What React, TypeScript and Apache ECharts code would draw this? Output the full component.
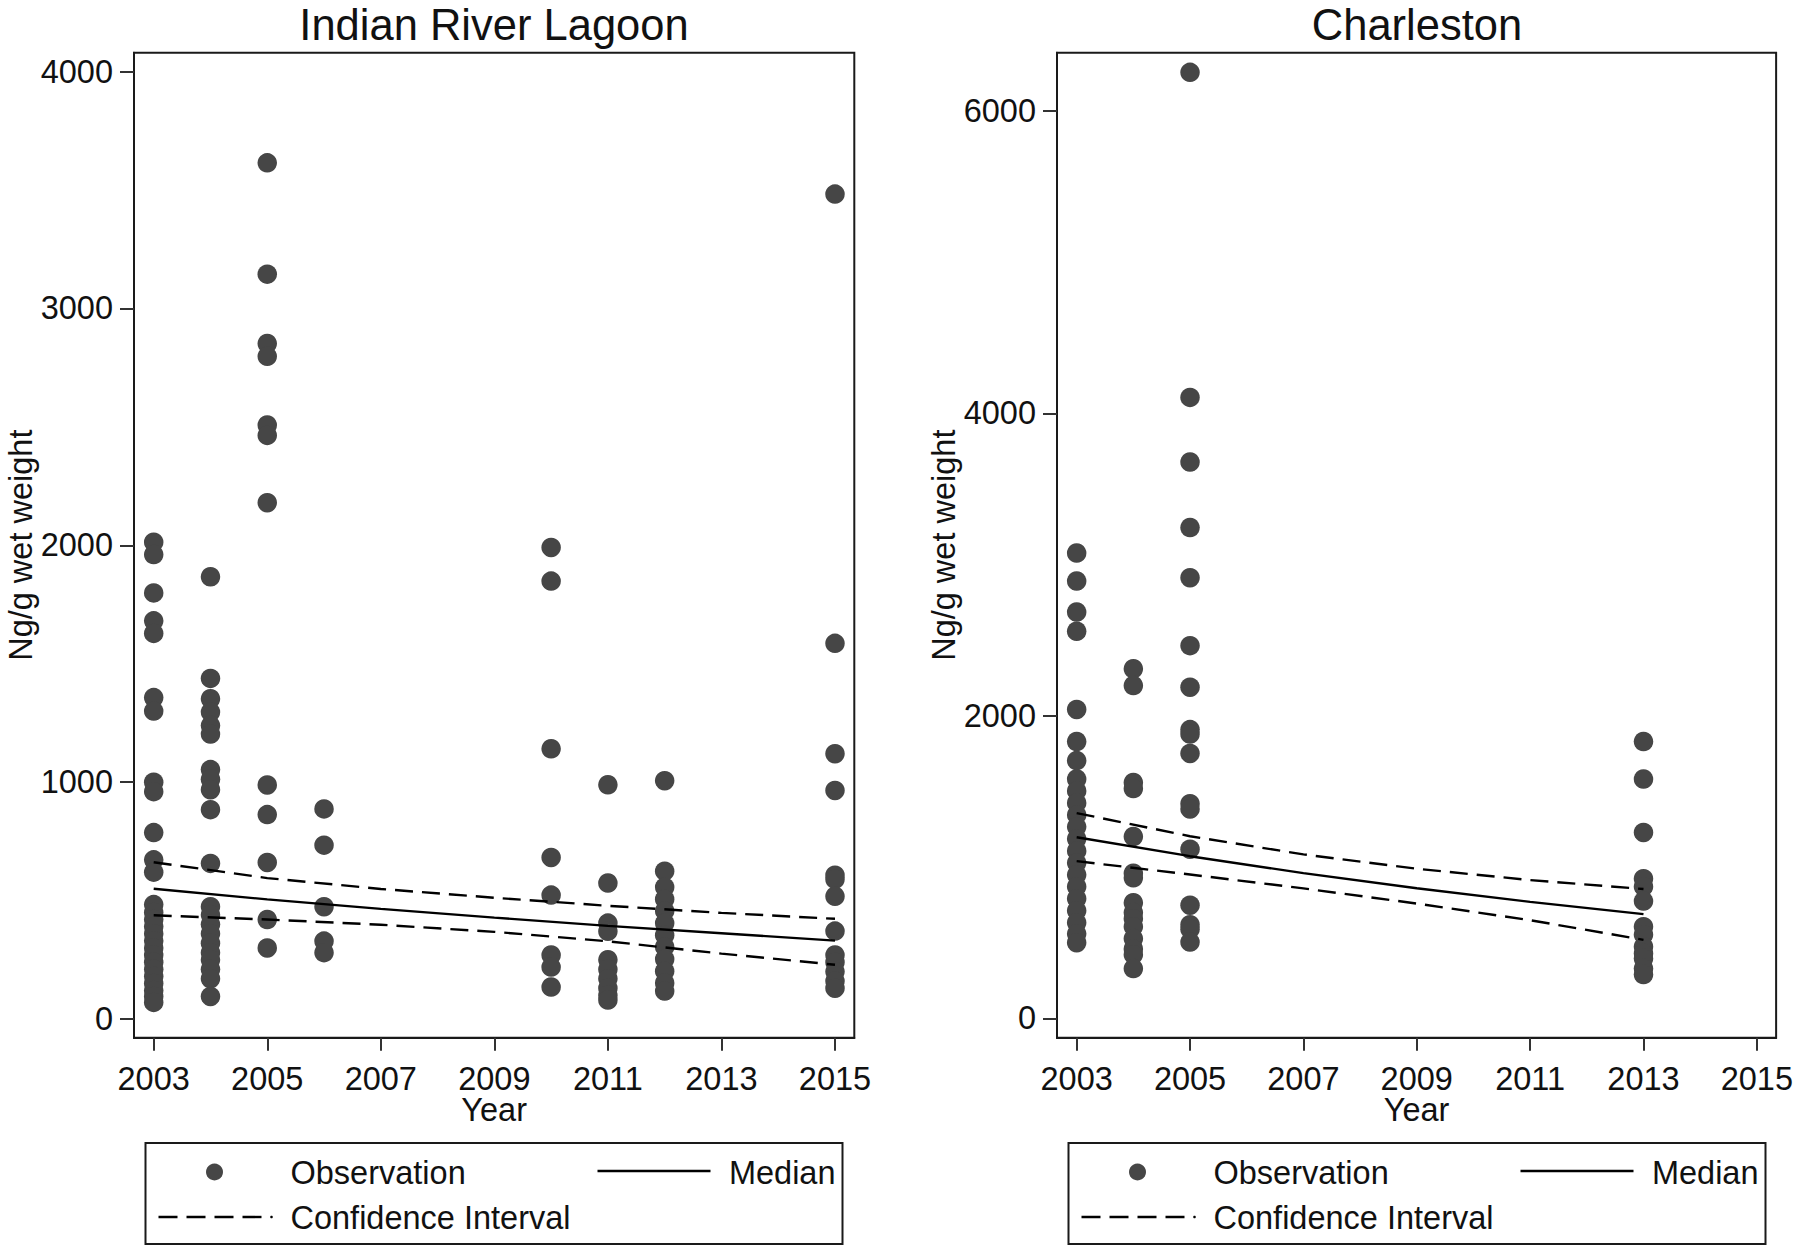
import React, { useEffect, useRef } from "react";
import * as echarts from "echarts";

// ---------- data ----------
const xTickYears = [2003, 2005, 2007, 2009, 2011, 2013, 2015];
const irlYTicks = [0, 1000, 2000, 3000, 4000];
const chsYTicks = [0, 2000, 4000, 6000];

// Indian River Lagoon observations (ng/g wet weight) by year
const irl2003 = [2013, 1961, 1799, 1681, 1628, 1357, 1300, 1000, 960, 787, 672, 620, 483, 450, 420, 390, 360, 330, 300, 270, 240, 210, 180, 150, 120, 95, 70];
const irl2004 = [1867, 1438, 1352, 1296, 1239, 1203, 1053, 1012, 968, 884, 657, 474, 440, 400, 360, 320, 280, 250, 210, 170, 95];
const irl2005 = [3615, 3145, 2852, 2798, 2508, 2464, 2180, 988, 863, 661, 420, 300];
const irl2006 = [887, 734, 474, 329, 280];
const irl2010 = [1991, 1849, 1141, 682, 523, 270, 219, 135];
const irl2011 = [989, 574, 405, 370, 250, 210, 170, 130, 100, 80];
const irl2012 = [1006, 624, 557, 506, 456, 405, 354, 304, 253, 202, 152, 118];
const irl2015 = [3483, 1586, 1120, 965, 607, 590, 518, 371, 270, 240, 200, 160, 130];

// Indian River Lagoon fitted lines
const irlLineYears = [2003, 2005, 2007, 2009, 2011, 2013, 2015];
const irlMedian = [550, 505, 465, 428, 393, 362, 331];
const irlUpper = [662, 595, 549, 512, 478, 448, 423];
const irlLower = [438, 420, 398, 368, 328, 276, 229];

// Charleston observations
const chs2003 = [3077, 2892, 2687, 2560, 2043, 1831, 1705, 1583, 1504, 1425, 1346, 1267, 1188, 1108, 1029, 950, 871, 792, 713, 633, 560, 501];
const chs2004 = [2312, 2201, 1560, 1520, 1203, 960, 930, 765, 700, 660, 607, 528, 460, 422, 330];
const chs2005 = [6255, 4106, 3679, 3246, 2914, 2465, 2190, 1910, 1880, 1752, 1420, 1385, 1119, 749, 620, 590, 505];
const chs2013 = [1831, 1583, 1230, 924, 871, 776, 607, 554, 475, 430, 396, 330, 290];

// Charleston fitted lines
const chsLineYears = [2003, 2005, 2007, 2009, 2011, 2013];
const chsMedian = [1198, 1073, 961, 861, 771, 690];
const chsUpper = [1358, 1205, 1085, 990, 915, 856];
const chsLower = [1040, 952, 860, 760, 650, 520];

// ---------- styling ----------
const FONT = "'Liberation Sans', Arial, Helvetica, sans-serif";
const DOT = "#464646";
const FRAME = "#1a1a1a";
const TXT = "#111111";
const FS = 32.5;
const LW = 2.4;
const DASH = [18, 9];

const pts = (year: number, vals: number[]) => vals.map((v) => [year, v]);
const linePts = (years: number[], vals: number[]) => years.map((y, i) => [y, vals[i]]);

function xAxisFor(gridIndex: number) {
  return {
    gridIndex,
    type: "value",
    min: 2002.653,
    max: 2015.34,
    name: "Year",
    nameLocation: "middle",
    nameGap: 57,
    nameMoveOverlap: false,
    nameTextStyle: { fontSize: FS, lineHeight: 30, color: TXT, fontFamily: FONT },
    axisLine: { show: true, onZero: false, lineStyle: { color: FRAME, width: 2 } },
    axisTick: { show: true, inside: false, length: 13, lineStyle: { color: "#333", width: 2 }, customValues: xTickYears },
    axisLabel: { show: true, customValues: xTickYears, fontSize: FS, lineHeight: 30, color: TXT, fontFamily: FONT, margin: 26, formatter: (v: number) => String(v) },
    splitLine: { show: false },
  };
}

function yAxisFor(gridIndex: number, min: number, max: number, ticks: number[]) {
  return {
    gridIndex,
    type: "value",
    min,
    max,
    name: "Ng/g wet weight",
    nameLocation: "middle",
    nameGap: 97,
    nameMoveOverlap: false,
    nameTextStyle: { fontSize: FS, color: TXT, fontFamily: FONT },
    axisLine: { show: true, onZero: false, lineStyle: { color: FRAME, width: 2 } },
    axisTick: { show: true, inside: false, length: 14, lineStyle: { color: "#333", width: 2 }, customValues: ticks },
    axisLabel: { show: true, customValues: ticks, fontSize: FS, color: TXT, fontFamily: FONT, margin: 21, formatter: (v: number) => String(v) },
    splitLine: { show: false },
  };
}

function scatterSeries(idx: number, data: number[][]) {
  return {
    type: "scatter",
    name: "Observation",
    xAxisIndex: idx,
    yAxisIndex: idx,
    data,
    symbol: "circle",
    symbolSize: 19.5,
    itemStyle: { color: DOT, opacity: 1 },
    z: 2,
  };
}

function lineSeries(idx: number, name: string, data: number[][], dashed: boolean) {
  return {
    type: "line",
    name,
    xAxisIndex: idx,
    yAxisIndex: idx,
    data,
    showSymbol: false,
    symbol: "none",
    smooth: false,
    lineStyle: { color: "#000", width: LW, type: dashed ? DASH : "solid" },
    z: 3,
  };
}

function legendGraphics(left: number) {
  const top = 1143;
  const w = 697;
  const h = 101;
  const r1 = 1172;
  const r2 = 1217;
  const ts = { fontSize: FS, fill: TXT, fontFamily: FONT, verticalAlign: "middle" };
  return [
    { type: "rect", shape: { x: left, y: top, width: w, height: h }, style: { fill: "#fff", stroke: FRAME, lineWidth: 2 }, z: 10 },
    { type: "circle", shape: { cx: left + 69, cy: r1, r: 8.5 }, style: { fill: DOT }, z: 11 },
    { type: "text", x: left + 145, y: r1 + 1, style: { ...ts, text: "Observation", align: "left" }, z: 11 },
    { type: "line", shape: { x1: left + 452, y1: r1 - 1, x2: left + 565, y2: r1 - 1 }, style: { stroke: "#000", lineWidth: LW }, z: 11 },
    { type: "text", x: left + w - 7, y: r1 + 1, style: { ...ts, text: "Median", align: "right" }, z: 11 },
    { type: "line", shape: { x1: left + 13, y1: r2, x2: left + 117, y2: r2 }, style: { stroke: "#000", lineWidth: LW, lineDash: [19, 9] }, z: 11 },
    { type: "circle", shape: { cx: left + 126, cy: r2, r: 1.3 }, style: { fill: "#000" }, z: 11 },
    { type: "text", x: left + 145, y: r2 + 1, style: { ...ts, text: "Confidence Interval", align: "left" }, z: 11 },
  ];
}

export default function App() {
  const ref = useRef<HTMLDivElement>(null);

  useEffect(() => {
    if (!ref.current) return;
    const chart = echarts.init(ref.current, undefined, { renderer: "svg" });

    const irlObs = [
      ...pts(2003, irl2003), ...pts(2004, irl2004), ...pts(2005, irl2005), ...pts(2006, irl2006),
      ...pts(2010, irl2010), ...pts(2011, irl2011), ...pts(2012, irl2012), ...pts(2015, irl2015),
    ];
    const chsObs = [...pts(2003, chs2003), ...pts(2004, chs2004), ...pts(2005, chs2005), ...pts(2013, chs2013)];

    const option = {
      animation: false,
      backgroundColor: "#ffffff",
      textStyle: { fontFamily: FONT },
      title: [
        { text: "Indian River Lagoon", left: 494, top: 3, textAlign: "center", padding: 0, textStyle: { fontSize: 43.5, fontWeight: "normal", color: TXT, fontFamily: FONT } },
        { text: "Charleston", left: 1417, top: 3, textAlign: "center", padding: 0, textStyle: { fontSize: 43.5, fontWeight: "normal", color: TXT, fontFamily: FONT } },
      ],
      grid: [
        { left: 134, top: 52.7, width: 720.3, height: 985, show: true, borderColor: FRAME, borderWidth: 2, backgroundColor: "#fff", containLabel: false },
        { left: 1057, top: 52.7, width: 720.7, height: 985, show: true, borderColor: FRAME, borderWidth: 2, backgroundColor: "#fff", containLabel: false },
      ],
      xAxis: [xAxisFor(0), xAxisFor(1)],
      yAxis: [yAxisFor(0, -79, 4080, irlYTicks), yAxisFor(1, -127, 6385, chsYTicks)],
      series: [
        scatterSeries(0, irlObs),
        lineSeries(0, "Median", linePts(irlLineYears, irlMedian), false),
        lineSeries(0, "Confidence Interval", linePts(irlLineYears, irlUpper), true),
        lineSeries(0, "Confidence Interval", linePts(irlLineYears, irlLower), true),
        scatterSeries(1, chsObs),
        lineSeries(1, "Median", linePts(chsLineYears, chsMedian), false),
        lineSeries(1, "Confidence Interval", linePts(chsLineYears, chsUpper), true),
        lineSeries(1, "Confidence Interval", linePts(chsLineYears, chsLower), true),
      ],
      graphic: [...legendGraphics(145.5), ...legendGraphics(1068.5)],
    };

    chart.setOption(option as any);
    return () => chart.dispose();
  }, []);

  return (
    <div
      ref={ref}
      style={{ position: "absolute", left: 0, top: 0, width: 1796, height: 1251, background: "#fff" }}
    />
  );
}
